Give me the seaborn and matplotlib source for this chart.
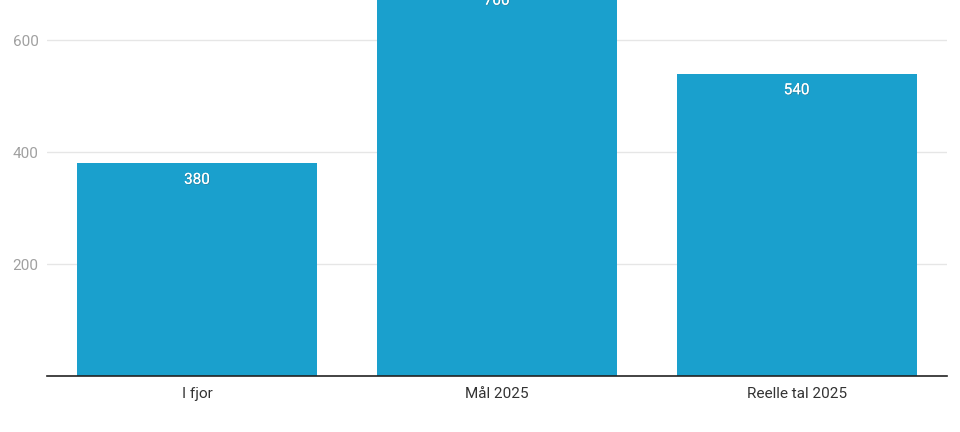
import matplotlib
matplotlib.use("Agg")
import matplotlib.pyplot as plt
import matplotlib.patheffects as pe
import seaborn as sns
import pandas as pd

# data
categories = ["I fjor", "Mål 2025", "Reelle tal 2025"]
values = [380, 700, 540]
y_ticks = [200, 400, 600]

sns.set_style("white")
plt.rcParams["font.family"] = ["Roboto", "DejaVu Sans"]

df = pd.DataFrame({"kategori": categories, "antal": values})

fig = plt.figure(figsize=(9.6, 4.32), dpi=100)
# axes top sits above the figure edge, so the tallest bar is cut off like in the reference
ax = fig.add_axes([0.049, 0.1296, 0.937, 0.9722])

sns.barplot(data=df, x="kategori", y="antal", color="#1aa0cd", saturation=1,
            width=0.8, ax=ax, zorder=2, linewidth=0)

ax.set_xlim(-0.5, 2.5)
ax.set_ylim(0, 750)
ax.set_yticks(y_ticks)
ax.yaxis.grid(True, color="#e6e6e6", linewidth=1, zorder=0)
ax.set_axisbelow(True)

for s in ["top", "right", "left"]:
    ax.spines[s].set_visible(False)
ax.spines["bottom"].set_color("#222222")
ax.spines["bottom"].set_linewidth(1.2)

ax.tick_params(axis="y", length=0, pad=6, labelsize=11, labelcolor="#a0a0a0")
ax.tick_params(axis="x", length=0, pad=8, labelsize=11, labelcolor="#333333")
ax.set_xlabel("")
ax.set_ylabel("")

for cont in ax.containers:
    labels = ax.bar_label(cont, labels=[str(v) for v in values], label_type="edge",
                          padding=-17, color="white", fontsize=11)
    for t in labels:
        t.set_path_effects([pe.withSimplePatchShadow(offset=(0.6, -0.6),
                                                     shadow_rgbFace="#555555", alpha=0.4),
                            pe.Normal()])

fig.savefig("out.png", dpi=100)
